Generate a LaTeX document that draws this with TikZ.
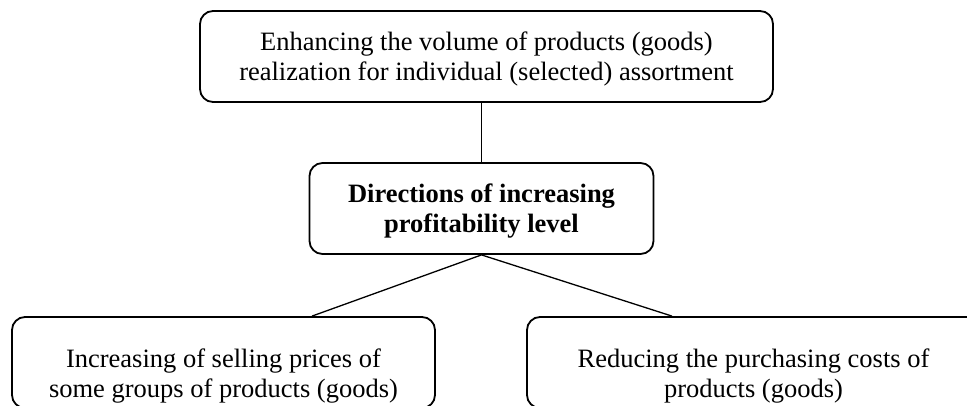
\documentclass[tikz,border=0pt]{standalone}
\usepackage{fontspec}
\setmainfont{Liberation Serif}
\begin{document}
\begin{tikzpicture}[x=1pt,y=1pt,
  txt/.style={align=center, inner sep=0pt, font=\fontsize{26.5}{30}\selectfont, text depth=0pt},
  box/.style={txt, draw, line width=1.8pt, rounded corners=13pt},
  conn/.style={line width=1.3pt}]
\useasboundingbox (0,0) rectangle (967,-405);
\fill[white] (0,0) rectangle (967,-405);
\node[box, minimum width=573pt, minimum height=91pt] (top) at (486.5,-56.5)
  {Enhancing the volume of products (goods)\\realization for individual (selected) assortment};
\node[box, minimum width=344pt, minimum height=91pt, font=\fontsize{26.5}{30}\selectfont\bfseries] (mid) at (481.5,-208.5)
  {Directions of increasing\\profitability level};
\node[box, minimum width=423pt, minimum height=91pt] (bl) at (223.5,-362.5) {};
\node[txt] (blt) at ([yshift=-11pt]bl.center)
  {Increasing of selling prices of\\some groups of products (goods)};
\node[box, minimum width=453pt, minimum height=91pt] (br) at (753.5,-362.5) {};
\node[txt] (brt) at ([yshift=-11pt]br.center)
  {Reducing the purchasing costs of\\products (goods)};
\coordinate (blc) at (bl.north -| 312,0);
\coordinate (brc) at (br.north -| 672,0);
\draw[conn] (top.south -| mid.north) -- (mid.north);
\draw[conn] (mid.south) -- (blc);
\draw[conn] (mid.south) -- (brc);
\end{tikzpicture}
\end{document}
